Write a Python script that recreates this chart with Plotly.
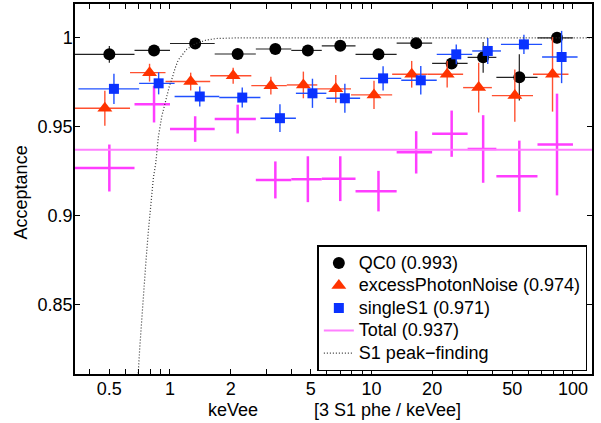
import numpy as np
import plotly.graph_objects as go

# ---------------- data ----------------
PHE_PER_KEVEE = 3
bin_edges_phe = [1, 2, 3, 5, 8, 12, 17, 25, 40, 60, 90, 125, 200, 300]

qc0 = [0.9907, 0.9929, 0.9968, 0.9909, 0.9937, 0.9929, 0.9955, 0.9907, 0.9970, 0.9856, 0.9890, 0.9778, 1.0000]
qc0_err = [0.0047, 0.003, 0.002, 0.002, 0.002, 0.002, 0.002, 0.002, 0.002, 0.003, 0.0087, 0.013, 0.003]

epn = [0.9604, 0.9804, 0.9754, 0.9787, 0.9731, 0.9735, 0.9713, 0.9679, 0.9795, 0.9795, 0.9720, 0.9675, 0.9795]
epn_err = [0.0098, 0.005, 0.005, 0.0045, 0.005, 0.0075, 0.0078, 0.0079, 0.0075, 0.0075, 0.014, 0.0147, 0.021]

single = [0.9713, 0.9744, 0.9670, 0.9664, 0.9548, 0.9688, 0.9660, 0.9772, 0.9761, 0.9907, 0.9926, 0.9963, 0.9892]
single_err = [0.0085, 0.0062, 0.0056, 0.0056, 0.0078, 0.0082, 0.0082, 0.0068, 0.008, 0.0056, 0.0073, 0.0054, 0.0147]

total = [0.9268, 0.9627, 0.9487, 0.9543, 0.9201, 0.9205, 0.9208, 0.9138, 0.9356, 0.9461, 0.9375, 0.9222, 0.9400]
total_err = [0.0132, 0.0103, 0.0072, 0.0081, 0.0104, 0.0129, 0.0126, 0.0114, 0.0119, 0.013, 0.019, 0.020, 0.0286]

overall = {"QC0": 0.993, "excessPhotonNoise": 0.974, "singleS1": 0.971, "Total": 0.937}

peak_x = [0.690, 0.697, 0.708, 0.724, 0.743, 0.760, 0.781, 0.803, 0.827, 0.850, 0.875, 0.910,
          0.937, 0.963, 0.992, 1.031, 1.059, 1.099, 1.164, 1.210, 1.33, 1.51, 1.70, 2.22, 130]
peak_y = [0.808, 0.8131, 0.8260, 0.8428, 0.8596, 0.8746, 0.8914, 0.9064, 0.9212, 0.9296, 0.9440, 0.9558,
          0.9614, 0.9670, 0.9726, 0.9782, 0.9828, 0.9875, 0.9912, 0.9935, 0.9966, 0.9987, 0.9996, 1.0, 1.0]

x_tick_vals = [0.4, 0.5, 0.6, 0.7, 0.8, 0.9, 1, 2, 3, 4, 5, 6, 7, 8, 9, 10,
               20, 30, 40, 50, 60, 70, 80, 90, 100]
x_tick_text = ["", "0.5", "", "", "", "", "1", "2", "", "", "5", "", "", "", "", "10",
               "20", "", "", "50", "", "", "", "", "100"]
y_tick_vals = [0.85, 0.9, 0.95, 1]
y_tick_text = ["0.85", "0.9", "0.95", "1"]

X_RANGE = [0.3377, 124.3]
Y_RANGE = [0.811, 1.019]

# ---------------- derived ----------------
edges = np.array(bin_edges_phe, dtype=float) / PHE_PER_KEVEE
lo, hi = edges[:-1], edges[1:]
centers = (lo + hi) / 2

RED_SHIFT = 0.95
BLUE_SHIFT = 1.054

FONT = "Liberation Sans, Arial, Helvetica, sans-serif"
FS = 18
LEGEND_ROW_FS = 15  # controls legend row spacing; text itself drawn at FS


def lg(name):
    return f"<span style='font-size:{FS}px'>{name}</span>"


def xerr(shift):
    return dict(type="data", symmetric=False,
                array=list((hi - centers) * shift),
                arrayminus=list((centers - lo) * shift))


fig = go.Figure()

# Total crosses (no legend entry)
fig.add_trace(go.Scatter(
    x=centers, y=total, mode="markers", marker=dict(size=1, color="rgba(0,0,0,0)"),
    error_x=dict(**xerr(1.0), color="#ff3dff", thickness=2.5, width=0),
    error_y=dict(type="data", array=total_err, color="#ff3dff", thickness=2.5, width=0),
    showlegend=False, hoverinfo="skip"))

# Total horizontal line
fig.add_trace(go.Scatter(
    x=X_RANGE, y=[overall["Total"]] * 2, mode="lines",
    line=dict(color="#ff80ff", width=2),
    name=lg(f"Total ({overall['Total']:.3f})"), legendrank=4))

fig.add_trace(go.Scatter(
    x=centers, y=qc0, mode="markers",
    marker=dict(symbol="circle", size=12, color="black"),
    error_x=dict(**xerr(1.0), color="#222222", thickness=1.2, width=0),
    error_y=dict(type="data", array=qc0_err, color="#222222", thickness=1.2, width=0),
    name=lg(f"QC0 ({overall['QC0']:.3f})"), legendrank=1))

fig.add_trace(go.Scatter(
    x=centers * RED_SHIFT, y=epn, mode="markers",
    marker=dict(symbol="triangle-up", size=13, color="#ff3300"),
    error_x=dict(**xerr(RED_SHIFT), color="#ff5030", thickness=1.4, width=0),
    error_y=dict(type="data", array=epn_err, color="#ff5030", thickness=1.4, width=0),
    name=lg(f"excessPhotonNoise ({overall['excessPhotonNoise']:.3f})"), legendrank=2))

fig.add_trace(go.Scatter(
    x=centers * BLUE_SHIFT, y=single, mode="markers",
    marker=dict(symbol="square", size=10, color="#0a32ff"),
    error_x=dict(**xerr(BLUE_SHIFT), color="#2050ff", thickness=1.4, width=0),
    error_y=dict(type="data", array=single_err, color="#2050ff", thickness=1.4, width=0),
    name=lg(f"singleS1 ({overall['singleS1']:.3f})"), legendrank=3))

fig.add_trace(go.Scatter(
    x=peak_x, y=peak_y, mode="lines",
    line=dict(color="#333333", width=1.2, dash="1px,2px"),
    name=lg("S1 peak\u2212finding"), legendrank=5))

fig.update_layout(
    width=601, height=423,
    margin=dict(l=75, r=9, t=2, b=49),
    paper_bgcolor="white", plot_bgcolor="white",
    font=dict(family=FONT, size=FS, color="black"),
    showlegend=True,
    legend=dict(x=0.991, xanchor="right", y=0.0072, yanchor="bottom",
                bordercolor="black", borderwidth=1.5, bgcolor="white",
                font=dict(family=FONT, size=LEGEND_ROW_FS, color="black")),
    xaxis=dict(type="log", range=[np.log10(X_RANGE[0]), np.log10(X_RANGE[1])],
               tickvals=x_tick_vals, ticktext=x_tick_text,
               ticks="inside", ticklen=5, tickcolor="black", tickwidth=1,
               ticklabelstandoff=-2,
               showline=True, linecolor="black", linewidth=1.5, mirror="ticks",
               showgrid=False, zeroline=False,
               tickfont=dict(family=FONT, size=FS, color="black")),
    yaxis=dict(range=Y_RANGE, tickvals=y_tick_vals, ticktext=y_tick_text,
               ticks="inside", ticklen=5, tickcolor="black", tickwidth=1,
               ticklabelstandoff=-3,
               showline=True, linecolor="black", linewidth=1.5, mirror="ticks",
               showgrid=False, zeroline=False,
               tickfont=dict(family=FONT, size=FS, color="black")),
    annotations=[
        dict(text="keVee", xref="paper", yref="paper", x=0.305, y=-0.096,
             xanchor="center", yanchor="middle", showarrow=False,
             font=dict(family=FONT, size=FS, color="black")),
        dict(text="[3 S1 phe / keVee]", xref="paper", yref="paper", x=0.604, y=-0.096,
             xanchor="center", yanchor="middle", showarrow=False,
             font=dict(family=FONT, size=FS, color="black")),
        dict(text="Acceptance", xref="paper", yref="paper", x=-0.105, y=0.49,
             xanchor="center", yanchor="middle", textangle=-90, showarrow=False,
             font=dict(family=FONT, size=FS, color="black")),
    ],
)

fig.write_html("out.html", config={"displayModeBar": False},
               post_script="document.body.style.margin='0';")
